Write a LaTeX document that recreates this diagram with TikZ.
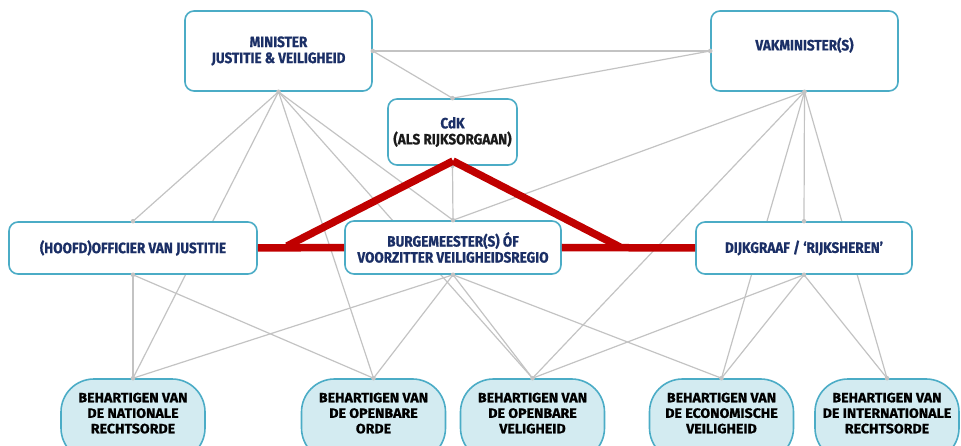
\documentclass[tikz,border=0pt]{standalone}
\usepackage{fontspec}
\setmainfont{Fira Sans}
\newfontfamily\boxfont[FakeStretch=0.9, BoldFeatures={FakeBold=0.8}]{Fira Sans}
\newfontfamily\goalfont[FakeStretch=1.05, BoldFeatures={FakeBold=0.8}]{Fira Sans}
\pgfdeclarelayer{bg}
\pgfsetlayers{bg,main}
\definecolor{boxblue}{HTML}{4BACC6}
\definecolor{navy}{HTML}{1B2F66}
\definecolor{linegray}{HTML}{C3C3C3}
\definecolor{redline}{HTML}{C00000}
\definecolor{paleblue}{HTML}{D3EBF1}
\definecolor{nearblack}{HTML}{1A1A1A}
\begin{document}
\begin{tikzpicture}[x=1pt,y=-1pt,
  actor/.style={draw=boxblue, line width=1.6pt, rounded corners=9pt, fill=white,
    align=center, font=\boxfont\bfseries\fontsize{15}{16}\selectfont, text=navy, inner sep=0pt},
  goal/.style={draw=boxblue, line width=1.6pt, rounded corners=33pt, fill=paleblue,
    align=center, font=\goalfont\bfseries\fontsize{13.5}{15.5}\selectfont, text=black,
    minimum width=144pt, minimum height=82pt, text depth=14pt, inner sep=0pt},
  link/.style={draw=linegray, line width=1.2pt},
  tie/.style={draw=redline, line width=7.5pt}]
\useasboundingbox (0,0) rectangle (961,446);
\begin{scope}
\clip (0,0) rectangle (961,446);
% actors
\node[actor, minimum width=187pt, minimum height=80pt] (min) at (278.5,51) {MINISTER\\JUSTITIE \& VEILIGHEID};
\node[actor, minimum width=187pt, minimum height=80pt, text depth=14pt] (vak) at (804.5,51) {VAKMINISTER(S)};
\node[actor, minimum width=129pt, minimum height=66pt] (cdk) at (452.5,132) {CdK\\\textcolor{nearblack}{(ALS RIJKSORGAAN)}};
\node[actor, minimum width=248pt, minimum height=52pt] (ovj) at (133,248) {(HOOFD)OFFICIER VAN JUSTITIE};
\node[actor, minimum width=216pt, minimum height=53pt] (bgm) at (453,247.5) {BURGEMEESTER(S) ÓF\\VOORZITTER VEILIGHEIDSREGIO};
\node[actor, minimum width=216pt, minimum height=52pt] (dijk) at (804,248) {DIJKGRAAF / ‘RIJKSHEREN’};
% goals
\node[goal] (g1) at (133,420) {BEHARTIGEN VAN\\DE NATIONALE\\RECHTSORDE};
\node[goal] (g2) at (373.5,420) {BEHARTIGEN VAN\\DE OPENBARE\\ORDE};
\node[goal] (g3) at (532.5,420) {BEHARTIGEN VAN\\DE OPENBARE\\VELIGHEID};
\node[goal] (g4) at (721.5,420) {BEHARTIGEN VAN\\DE ECONOMISCHE\\VEILIGHEID};
\node[goal] (g5) at (887,420) {BEHARTIGEN VAN\\DE INTERNATIONALE\\RECHTSORDE};
% grey connectors
\begin{pgfonlayer}{bg}
\draw[link] (min.east) -- (vak.west);
\draw[link] (min.east) -- (cdk.north);
\draw[link] (vak.west) -- (cdk.north);
\draw[link] (min.south) -- (ovj.north);
\draw[link] (min.south) -- (g1.north);
\draw[link] (min.south) -- (g2.north);
\draw[link] (min.south) -- (g3.north);
\draw[link] (min.south) -- (bgm.north);
\draw[link] (cdk.south) -- (bgm.north);
\draw[link] (vak.south) -- (bgm.north);
\draw[link] (vak.south) -- (g3.north);
\draw[link] (vak.south) -- (g4.north);
\draw[link] (vak.south) -- (dijk.north);
\draw[link] (vak.south) -- (g5.north);
\draw[link] (ovj.south) -- (g1.north);
\draw[link] (ovj.south) -- (g2.north);
\draw[link] (bgm.south) -- (g1.north);
\draw[link] (bgm.south) -- (g2.north);
\draw[link] (bgm.south) -- (g3.north);
\draw[link] (bgm.south) -- (g4.north);
\draw[link] (dijk.south) -- (g3.north);
\draw[link] (dijk.south) -- (g4.north);
\draw[link] (dijk.south) -- (g5.north);
\end{pgfonlayer}
\foreach \a in {min.south,min.east,vak.west,vak.south,cdk.north,cdk.south,ovj.north,ovj.south,bgm.north,bgm.south,dijk.north,dijk.south,g1.north,g2.north,g3.north,g4.north,g5.north}
  \fill[linegray] (\a) circle (2.3pt);
% red ties
\coordinate (roofL) at (287,246);
\coordinate (apex) at (453,161);
\coordinate (roofR) at (620,247);
\draw[tie] (ovj.east) -- (bgm.west);
\draw[tie] (bgm.east) -- (dijk.west);
\draw[tie] (roofL) -- (apex);
\draw[tie] (apex) -- (roofR);
\end{scope}
\end{tikzpicture}
\end{document}
